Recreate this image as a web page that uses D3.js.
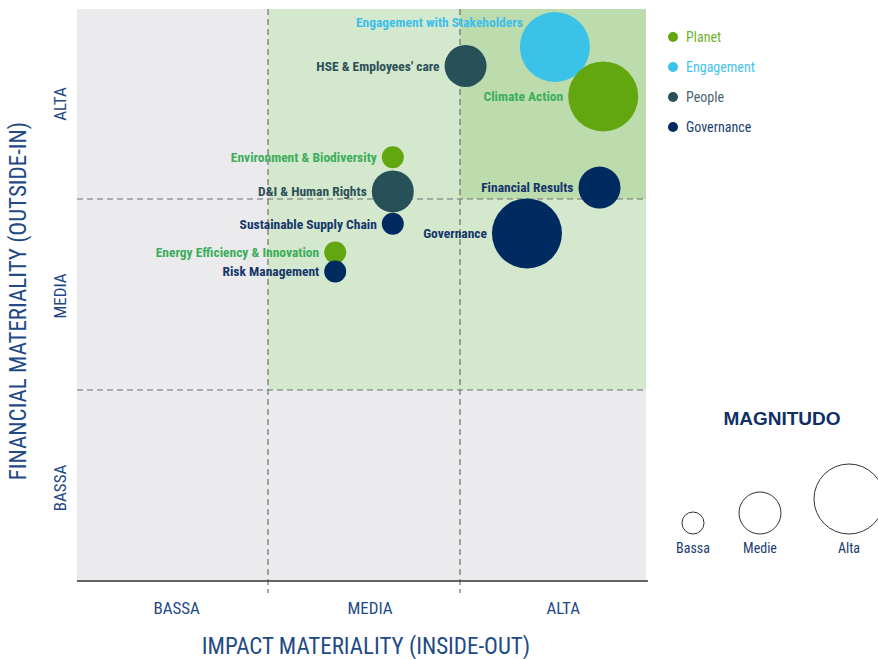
<!DOCTYPE html>
<html>
<head>
<meta charset="utf-8">
<title>Materiality matrix</title>
<script src="https://cdn.jsdelivr.net/npm/d3@7"></script>
<style>
  body { margin: 0; background: #fff; }
  text { font-family: "Liberation Sans Narrow", "Roboto Condensed", "DejaVu Sans Condensed", sans-serif; }
</style>
</head>
<body>
<div id="chart"></div>
<script>
// topics and their positions on the matrix (0-3 on both axes)
var topics = ["Engagement with Stakeholders", "Climate Action", "HSE & Employees' care",
  "Environment & Biodiversity", "D&I & Human Rights", "Sustainable Supply Chain",
  "Energy Efficiency & Innovation", "Risk Management", "Financial Results", "Governance"];
var impact    = [2.51, 2.77, 2.03, 1.65, 1.65, 1.65, 1.35, 1.35, 2.75, 2.36];
var financial = [2.80, 2.54, 2.70, 2.22, 2.04, 1.87, 1.72, 1.62, 2.06, 1.82];
var magnitude = ["Alta", "Alta", "Medie", "Bassa", "Medie", "Bassa", "Bassa", "Bassa", "Medie", "Alta"];
var pillar    = ["Engagement", "Planet", "People", "Planet", "People", "Governance",
  "Planet", "Governance", "Governance", "Governance"];

var pillars = ["Planet", "Engagement", "People", "Governance"];
var levels = ["BASSA", "MEDIA", "ALTA"];
var magnitudes = ["Bassa", "Medie", "Alta"];

var width = 878, height = 659;

var svg = d3.select("#chart").append("svg")
  .attr("width", width)
  .attr("height", height);

// scales
var x = d3.scaleLinear().domain([0, 1, 2, 3]).range([77, 268, 460, 646]);
var y = d3.scaleLinear().domain([0, 1, 2, 3]).range([581, 390, 199, 9]);
var xLab = d3.scaleLinear().domain([0, 3]).range([80, 660]);
var yLab = d3.scaleLinear().domain([0, 3]).range([584, 8]);
var r = d3.scaleOrdinal().domain(magnitudes).range([11, 21, 35]);
var fill = d3.scaleOrdinal().domain(pillars).range(["#62a70f", "#3ac2e8", "#275058", "#002b61"]);
var labelColor = d3.scaleOrdinal().domain(pillars).range(["#3dae5c", "#3cc0ea", "#2d4f59", "#16366b"]);
var legendColor = d3.scaleOrdinal().domain(pillars).range(["#70b22c", "#45c3ec", "#4a6670", "#213d70"]);

// background cells
var cells = [];
[0, 1, 2].forEach(function (i) {
  [0, 1, 2].forEach(function (j) { cells.push({ i: i, j: j }); });
});
svg.append("g").selectAll("rect")
  .data(cells)
  .enter().append("rect")
  .attr("x", d => x(d.i))
  .attr("y", d => y(d.j + 1))
  .attr("width", d => x(d.i + 1) - x(d.i))
  .attr("height", d => y(d.j) - y(d.j + 1))
  .attr("fill", function (d) {
    if (d.i == 0 || d.j == 0) return "#ebebee";
    if (d.i == 2 && d.j == 2) return "#bcdcae";
    return "#d3e8cc";
  });

// dashed dividers
var grid = svg.append("g")
  .attr("stroke", "#707070")
  .attr("stroke-width", 1.2)
  .attr("stroke-dasharray", "6,4");
grid.selectAll(".v").data([1, 2]).enter().append("line")
  .attr("x1", d => x(d)).attr("x2", d => x(d))
  .attr("y1", y(3)).attr("y2", y(0) + 12);
grid.selectAll(".h").data([1, 2]).enter().append("line")
  .attr("x1", x(0)).attr("x2", x(3))
  .attr("y1", d => y(d)).attr("y2", d => y(d));

// bottom axis line
svg.append("line")
  .attr("x1", x(0)).attr("x2", x(3) + 2)
  .attr("y1", y(0)).attr("y2", y(0))
  .attr("stroke", "#333").attr("stroke-width", 1.5);

// level labels
svg.append("g").selectAll("text")
  .data(levels).enter().append("text")
  .attr("x", (d, i) => xLab(i + 0.5))
  .attr("y", 608)
  .attr("dy", "0.35em")
  .attr("text-anchor", "middle")
  .attr("font-size", 17)
  .attr("fill", "#1f4a85")
  .text(d => d);

svg.append("g").selectAll("text")
  .data(levels).enter().append("text")
  .attr("transform", (d, i) => "translate(60," + yLab(i + 0.5) + ") rotate(-90)")
  .attr("dy", "0.35em")
  .attr("text-anchor", "middle")
  .attr("font-size", 17)
  .attr("fill", "#1f4a85")
  .text(d => d);

// axis titles
svg.append("text")
  .attr("x", 366).attr("y", 646)
  .attr("dy", "0.35em")
  .attr("text-anchor", "middle")
  .attr("font-size", 23)
  .attr("fill", "#1f4a85")
  .text("IMPACT MATERIALITY (INSIDE-OUT)");

svg.append("text")
  .attr("transform", "translate(18,301) rotate(-90)")
  .attr("dy", "0.35em")
  .attr("text-anchor", "middle")
  .attr("font-size", 23)
  .attr("fill", "#1f4a85")
  .text("FINANCIAL MATERIALITY (OUTSIDE-IN)");

// bubbles
var data = topics.map(function (t, i) {
  return { name: t, ix: impact[i], fx: financial[i], mag: magnitude[i], pillar: pillar[i] };
});

svg.append("g").selectAll("circle")
  .data(data).enter().append("circle")
  .attr("cx", d => x(d.ix))
  .attr("cy", d => y(d.fx))
  .attr("r", d => r(d.mag))
  .attr("fill", d => fill(d.pillar));

svg.append("g").selectAll("text")
  .data(data).enter().append("text")
  .attr("x", function (d) {
    if (d.name == "Engagement with Stakeholders") return x(d.ix) - r(d.mag) + 3;
    return x(d.ix) - r(d.mag) - 5;
  })
  .attr("y", function (d) {
    if (d.name == "Engagement with Stakeholders") return y(d.fx) - 25;
    return y(d.fx);
  })
  .attr("dy", "0.35em")
  .attr("text-anchor", "end")
  .attr("font-size", 13.5)
  .attr("font-weight", "bold")
  .attr("fill", d => labelColor(d.pillar))
  .text(d => d.name);

// pillar legend
var leg = svg.append("g").selectAll("g")
  .data(pillars).enter().append("g")
  .attr("transform", (d, i) => "translate(673," + (37 + i * 30) + ")");
leg.append("circle").attr("r", 5).attr("fill", d => fill(d));
leg.append("text")
  .attr("x", 13).attr("dy", "0.35em")
  .attr("font-size", 14)
  .attr("fill", d => legendColor(d))
  .text(d => d);

// magnitude legend
svg.append("text")
  .attr("x", 782).attr("y", 418)
  .attr("dy", "0.35em")
  .attr("text-anchor", "middle")
  .attr("font-size", 19)
  .attr("font-weight", "bold")
  .style("font-family", "'Liberation Sans', Arial, sans-serif")
  .attr("fill", "#0f2f66")
  .text("MAGNITUDO");

var magX = d3.scaleOrdinal().domain(magnitudes).range([693, 760, 849]);
var mag = svg.append("g").selectAll("g")
  .data(magnitudes).enter().append("g");
mag.append("circle")
  .attr("cx", d => magX(d))
  .attr("cy", d => 534 - r(d))
  .attr("r", d => r(d))
  .attr("fill", "none")
  .attr("stroke", "#333")
  .attr("stroke-width", 1);
mag.append("text")
  .attr("x", d => magX(d))
  .attr("y", 548)
  .attr("dy", "0.35em")
  .attr("text-anchor", "middle")
  .attr("font-size", 14)
  .attr("fill", "#213d70")
  .text(d => d);
</script>
</body>
</html>
